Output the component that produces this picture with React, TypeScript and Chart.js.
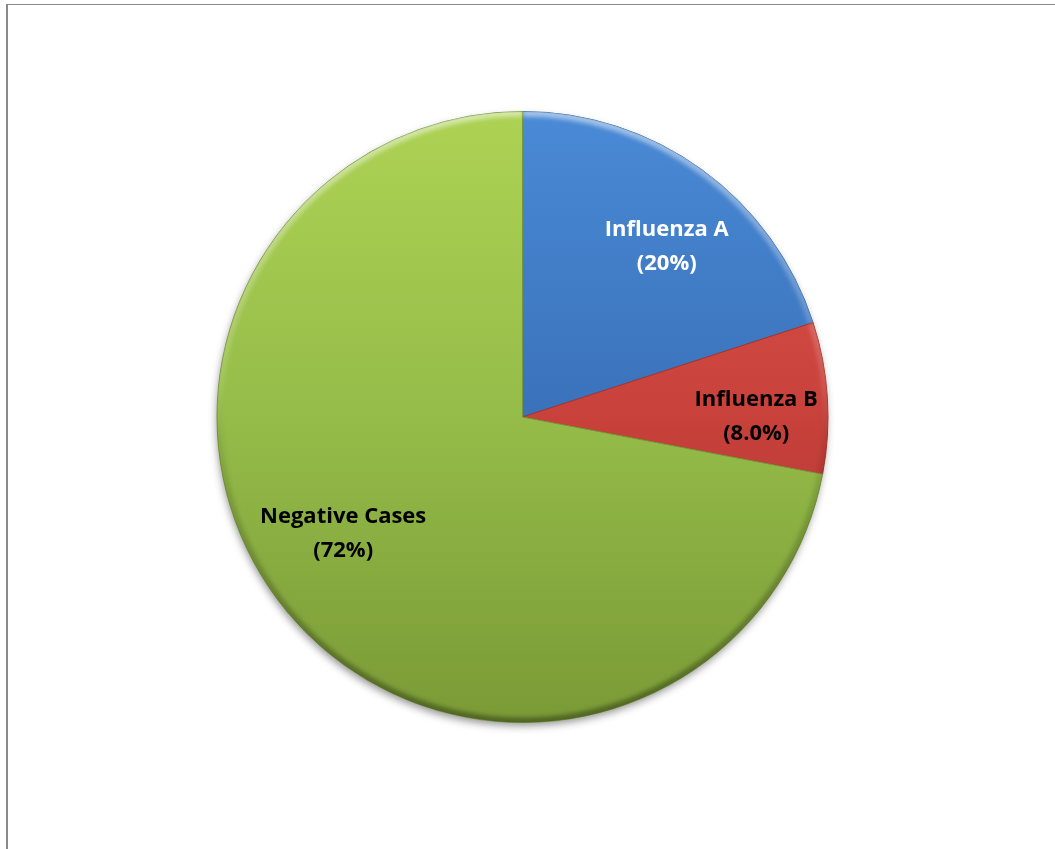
import React, { useEffect, useRef } from "react";
import { Chart, registerables } from "chart.js";

Chart.register(...registerables);

// ---- data ----
const categories = ["Influenza A", "Influenza B", "Negative Cases"];
const shares = [20, 8.0, 72];
const shareDecimals = [0, 1, 0];

// ---- style ----
const FONT_FAMILY = "'Open Sans', Lato, sans-serif";
const FONT_SIZE = 22;
const LINE_GAP = 34;
const labelColors = ["#ffffff", "#000000", "#000000"];
// radial fraction and small angular nudge (radians) for each slice label
const labelPlacement = [
  { r: 0.73, turn: 0.075 },
  { r: 0.765, turn: 0.063 },
  { r: 0.7, turn: 0.115 },
];
// vertical gradient stops across the pie (top -> bottom)
const sliceGradients = [
  ["#4a8ad6", "#3a72ba", "#2c5894"],
  ["#e0564f", "#c8413b", "#a6322d"],
  ["#add253", "#95bc49", "#7a9a36"],
];
const sliceEdges = ["#3466a6", "#a8332e", "#76963a"];

const frameLines = {
  id: "frameLines",
  beforeDraw(chart: Chart) {
    const ctx = chart.ctx;
    ctx.save();
    ctx.fillStyle = "#ffffff";
    ctx.fillRect(0, 0, chart.width, chart.height);
    ctx.fillStyle = "#8a8a8a";
    ctx.fillRect(6, 4, 2, chart.height - 4);
    ctx.fillRect(6, 4, chart.width - 6, 1);
    ctx.restore();
  },
};

const pieShadow = {
  id: "pieShadow",
  beforeDatasetsDraw(chart: Chart) {
    const meta = chart.getDatasetMeta(0);
    const arc: any = meta.data[0];
    if (!arc) return;
    const ctx = chart.ctx;
    ctx.save();
    ctx.shadowColor = "rgba(0,0,0,0.45)";
    ctx.shadowBlur = 9;
    ctx.shadowOffsetX = -1;
    ctx.shadowOffsetY = 4;
    ctx.fillStyle = "#8aa845";
    ctx.beginPath();
    ctx.arc(arc.x, arc.y, arc.outerRadius - 1, 0, Math.PI * 2);
    ctx.fill();
    ctx.restore();
  },
};

// soft bevel: light rim on the top edge of every slice, darker rim on the bottom
const sliceBevel = {
  id: "sliceBevel",
  afterDatasetsDraw(chart: Chart) {
    const meta = chart.getDatasetMeta(0);
    const ctx = chart.ctx;
    meta.data.forEach((el: any) => {
      const { x, y, startAngle, endAngle, outerRadius } = el;
      ctx.save();
      ctx.beginPath();
      ctx.moveTo(x, y);
      ctx.arc(x, y, outerRadius, startAngle, endAngle);
      ctx.closePath();
      ctx.clip();
      const g = ctx.createLinearGradient(0, y - outerRadius, 0, y + outerRadius);
      g.addColorStop(0, "rgba(255,255,255,0.5)");
      g.addColorStop(0.45, "rgba(255,255,255,0.1)");
      g.addColorStop(0.55, "rgba(0,0,0,0.08)");
      g.addColorStop(1, "rgba(0,0,0,0.35)");
      ctx.strokeStyle = g;
      ctx.lineWidth = 8;
      ctx.filter = "blur(2px)";
      ctx.beginPath();
      ctx.arc(x, y, outerRadius - 1, startAngle, endAngle);
      ctx.stroke();
      ctx.restore();
    });
  },
};

const sliceLabels = {
  id: "sliceLabels",
  afterDatasetsDraw(chart: Chart) {
    const meta = chart.getDatasetMeta(0);
    const ctx = chart.ctx;
    ctx.save();
    ctx.font = `bold ${FONT_SIZE}px ${FONT_FAMILY}`;
    ctx.textAlign = "center";
    ctx.textBaseline = "middle";
    meta.data.forEach((el: any, i: number) => {
      const { x, y, startAngle, endAngle, outerRadius } = el;
      const p = labelPlacement[i];
      const a = (startAngle + endAngle) / 2 + p.turn;
      const cx = x + Math.cos(a) * outerRadius * p.r;
      const cy = y + Math.sin(a) * outerRadius * p.r;
      ctx.fillStyle = labelColors[i];
      ctx.fillText(categories[i], cx, cy - LINE_GAP / 2);
      ctx.fillText(`(${shares[i].toFixed(shareDecimals[i])}%)`, cx, cy + LINE_GAP / 2);
    });
    ctx.restore();
  },
};

export default function App() {
  const canvasRef = useRef<HTMLCanvasElement | null>(null);

  useEffect(() => {
    const canvas = canvasRef.current;
    if (!canvas) return;
    const chart = new Chart(canvas, {
      type: "pie",
      data: {
        labels: categories,
        datasets: [
          {
            data: shares,
            backgroundColor: (c: any) => {
              const area = c.chart.chartArea;
              if (!area) return sliceGradients[c.dataIndex][1];
              const stops = sliceGradients[c.dataIndex];
              const g = c.chart.ctx.createLinearGradient(0, area.top, 0, area.bottom);
              g.addColorStop(0, stops[0]);
              g.addColorStop(0.5, stops[1]);
              g.addColorStop(1, stops[2]);
              return g;
            },
            borderColor: sliceEdges,
            borderWidth: 1,
          },
        ],
      },
      options: {
        responsive: false,
        animation: false,
        layout: { padding: { top: 111, bottom: 126, left: 0, right: 10 } },
        plugins: {
          legend: { display: false },
          tooltip: { enabled: false },
          title: { display: false },
        },
      },
      plugins: [frameLines, pieShadow, sliceBevel, sliceLabels],
    });
    return () => chart.destroy();
  }, []);

  return (
    <canvas
      ref={canvasRef}
      width={1055}
      height={849}
      style={{ position: "absolute", left: 0, top: 0, display: "block" }}
    />
  );
}
